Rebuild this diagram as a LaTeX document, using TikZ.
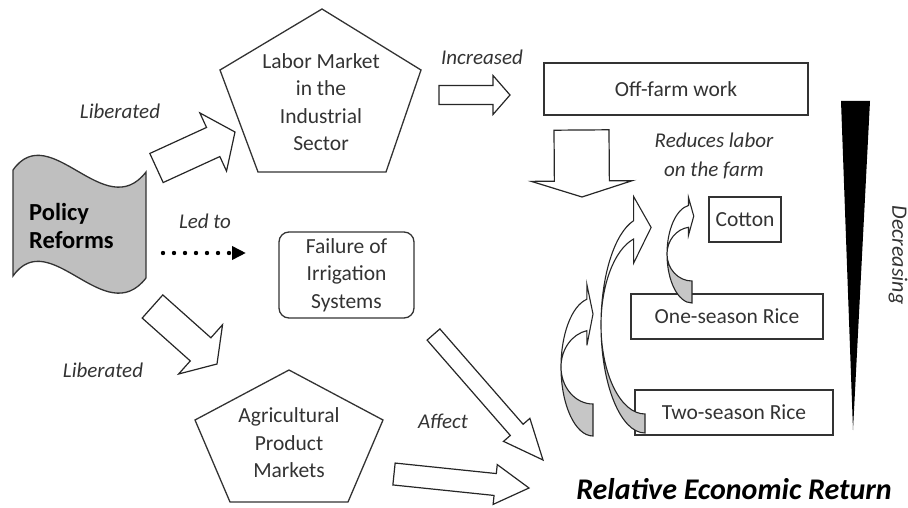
\documentclass[tikz,border=0pt]{standalone}
\usepackage{fontspec}
\setmainfont{Carlito}
\usetikzlibrary{arrows.meta,calc}
\tikzset{
  txt/.style={font=\fontsize{21.5}{27.5}\selectfont, text=black!80, align=center, inner sep=0pt},
  cue/.style={font=\fontsize{21}{29}\selectfont\itshape, text=black!80, align=center, inner sep=0pt},
  rect/.style={txt, draw=black!80, line width=1.3pt},
  pent/.style={draw=black!80, line width=1.3pt, line join=miter},
  banner/.style={draw=black!80, line width=1.3pt, fill=gray!50},
  blockarr/.style={draw=black!85, line width=1.2pt, fill=white, line join=miter},
  curvearr/.style={draw=black!85, line width=1.1pt},
  ledto/.style={line width=4.4pt, dash pattern=on 0pt off 11pt, line cap=round, -{Triangle[length=14pt,width=13pt]}}
}
% block arrow: from, to, shaft half width, head half width, head length
\newcommand{\blockarrow}[5]{%
  \coordinate (ba) at ($(#2)!#5pt!(#1)$);
  \draw[blockarr] ($(#1)!#3pt!90:(#2)$) -- ($(ba)!#3pt!-90:(#1)$) -- ($(ba)!#4pt!-90:(#1)$) -- (#2)
    -- ($(ba)!#4pt!90:(#1)$) -- ($(ba)!#3pt!90:(#1)$) -- ($(#1)!#3pt!-90:(#2)$) -- cycle;
}
\begin{document}
\begin{tikzpicture}[x=1pt, y=-1pt]
  \useasboundingbox (0,0) rectangle (908,508);

  % policy reforms banner
  \draw[banner] (13,170) .. controls (50,118) and (105,225) .. (146,172) -- (146,278)
    .. controls (105,331) and (50,224) .. (13,276) -- cycle;
  \node[txt, font=\fontsize{24.5}{28}\selectfont\bfseries, text=black, anchor=west, align=left] (policy) at (29,226) {Policy\\Reforms};

  % pentagons
  \draw[pent] (322,9) -- (421,70) -- (386,172) -- (258,172) -- (220,70) -- cycle;
  \node[txt] (labor) at (321,102) {Labor Market\\in the\\Industrial\\Sector};
  \draw[pent] (289,370) -- (383,420) -- (348,502) -- (230,502) -- (195,420) -- cycle;
  \node[txt] (agri) at (289,443) {Agricultural\\Product\\Markets};

  % boxes
  \node[rect, rounded corners=10pt, minimum width=135pt, minimum height=86pt] (irrig) at (346.5,275) {Failure of\\Irrigation\\Systems};
  \node[rect, minimum width=264pt, minimum height=52pt] (offfarm) at (676,89) {Off-farm work};
  \node[rect, minimum width=72pt, minimum height=45pt] (cotton) at (745,219.5) {Cotton};
  \node[rect, minimum width=192pt, minimum height=45pt] (rice1) at (727,316.5) {One-season Rice};
  \node[rect, minimum width=198pt, minimum height=45pt] (rice2) at (734,412.5) {Two-season Rice};

  % labels
  \node[cue] (libup) at (120,111) {Liberated};
  \node[cue] (libdown) at (103,370) {Liberated};
  \node[cue] (led) at (205,221) {Led to};
  \node[cue] (incr) at (482,57) {Increased};
  \node[cue] (reduce) at (714,156) {Reduces labor\\on the farm};
  \node[cue] (affect) at (443,421) {Affect};
  \node[cue, font=\fontsize{22}{26}\selectfont\itshape, rotate=-90] (decr) at (898,255) {Decreasing};
  \node[font=\fontsize{30}{35}\selectfont\bfseries\itshape, inner sep=0pt] (return) at (734,489) {Relative Economic Return};

  % block arrows
  \coordinate (lib1s) at (156.5,168);  \coordinate (lib1e) at (235,132);
  \coordinate (lib2s) at (152.5,306.5);\coordinate (lib2e) at (217,364);
  \coordinate (incs) at (439,95);      \coordinate (ince) at (510,95);
  \coordinate (downs) at (581.5,130);  \coordinate (downe) at (582,197);
  \coordinate (aff1s) at (433.5,334.5);\coordinate (aff1e) at (543,460);
  \coordinate (aff2s) at (394,474);    \coordinate (aff2e) at (529,488);
  \blockarrow{lib1s}{lib1e}{16}{32}{24}
  \blockarrow{lib2s}{lib2e}{15.5}{33}{22}
  \blockarrow{incs}{ince}{9.5}{19.5}{17}
  \blockarrow{downs}{downe}{27.5}{50.5}{16}
  \blockarrow{aff1s}{aff1e}{8.5}{17.5}{40}
  \blockarrow{aff2s}{aff2e}{11}{20}{34}

  % dotted arrow
  \coordinate (leds) at (163,253); \coordinate (lede) at (246,253);
  \draw[ledto] (leds) -- (lede);

  % curved arrows
  \foreach \ccx/\ccy/\crx/\cro/\cri/\cte/\cbx/\cdt in {593/367/32/69/37/259/15/11, 645/325/44/108/89/255/25/23, 692/254/25/49/27/262/8/12}{
    \pgfmathsetmacro\hx{\ccx+\crx*cos(\cte)}
    \pgfmathsetmacro\hs{sin(\cte)}
    \pgfmathsetmacro\tx{\ccx+\crx*cos(\cte+\cdt)}
    \pgfmathsetmacro\ty{\ccy+(\cro+\cri)/2*sin(\cte+\cdt)}
    \draw[curvearr, fill=gray!45] (\ccx-\crx,\ccy) arc[start angle=180, end angle=90, x radius=\crx, y radius=\cro]
      -- (\ccx,\ccy+\cri) arc[start angle=90, end angle=180, x radius=\crx, y radius=\cri] -- cycle;
    \draw[curvearr, fill=white] (\hx,\ccy+\cro*\hs) -- (\hx,\ccy+\cro*\hs+\cbx*\hs)
      -- (\tx,\ty) -- (\hx,\ccy+\cri*\hs-\cbx*\hs)
      -- (\hx,\ccy+\cri*\hs) arc[start angle=\cte, end angle=180, x radius=\crx, y radius=\cri]
      arc[start angle=180, end angle=\cte, x radius=\crx, y radius=\cro] -- cycle;
  }

  % decreasing wedge
  \fill[black] (841,101) -- (870,101) -- (853,430) -- cycle;
\end{tikzpicture}
\end{document}
